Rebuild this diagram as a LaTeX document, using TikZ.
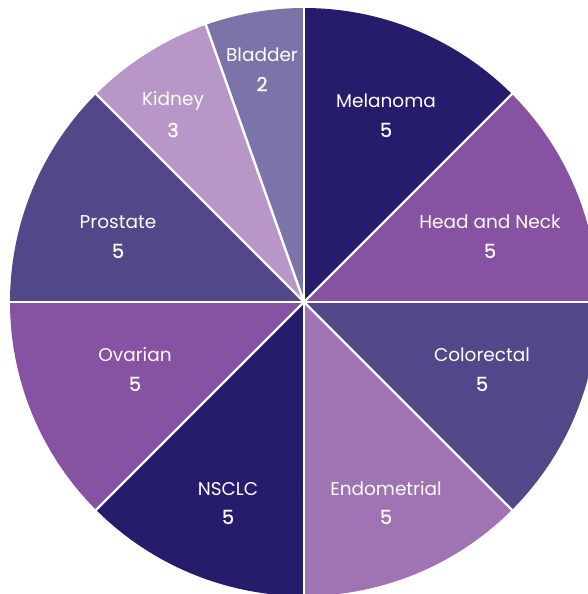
\documentclass[tikz,border=0pt]{standalone}
\usepackage{fontspec}
\setmainfont{Poppins}
\newfontfamily\numfont{Poppins}[FakeBold=0.8]
\definecolor{cNavy}{HTML}{261C6C}
\definecolor{cPlum}{HTML}{8752A1}
\definecolor{cSlate}{HTML}{514889}
\definecolor{cOrchid}{HTML}{A074B2}
\definecolor{cLilac}{HTML}{B897C8}
\definecolor{cMauve}{HTML}{7C73A9}
\tikzset{
  lbl/.style={text=white, font=\fontsize{18.5}{20}\selectfont, inner sep=0pt, anchor=center},
  num/.style={text=white, font=\numfont\fontsize{19.5}{20}\selectfont, inner sep=0pt, anchor=center},
}
\begin{document}
\begin{tikzpicture}[x=1pt,y=1pt]
\useasboundingbox (0,0) rectangle (588,594);
\clip (0,0) rectangle (588,594);
\coordinate (c) at (304,292);
\def\R{294}
\foreach \a/\b/\col in {45/90/cNavy, 0/45/cPlum, -45/0/cSlate, -90/-45/cOrchid, -135/-90/cNavy, 180/225/cPlum, 135/180/cSlate, 109.5/135/cLilac, 90/109.5/cMauve}{
  \fill[\col] (c) -- ++(\a:\R) arc[start angle=\a, end angle=\b, radius=\R] -- cycle;
}
\foreach \a in {0,45,90,109.5,135,180,225,270,315}{
  \draw[white, line width=2.4pt] (c) -- ++(\a:\R+2);
}
\node[lbl] (bl) at (262,594-55) {Bladder};
\node[num] (bln) at (262,594-84) {2};
\node[lbl] (me) at (386,594-101) {Melanoma};
\node[num] (men) at (386,594-130) {5};
\node[lbl] (hn) at (490,594-222) {Head and Neck};
\node[num] (hnn) at (490,594-251) {5};
\node[lbl] (co) at (482,594-355) {Colorectal};
\node[num] (con) at (482,594-384) {5};
\node[lbl] (en) at (386,594-489) {Endometrial};
\node[num] (enn) at (386,594-517) {5};
\node[lbl] (ns) at (228,594-489) {NSCLC};
\node[num] (nsn) at (228,594-517) {5};
\node[lbl] (ov) at (135,594-355) {Ovarian};
\node[num] (ovn) at (135,594-384) {5};
\node[lbl] (pr) at (118,594-222) {Prostate};
\node[num] (prn) at (118,594-251) {5};
\node[lbl] (ki) at (173,594-101) {Kidney};
\node[num] (kin) at (173,594-130) {3};
\end{tikzpicture}
\end{document}
